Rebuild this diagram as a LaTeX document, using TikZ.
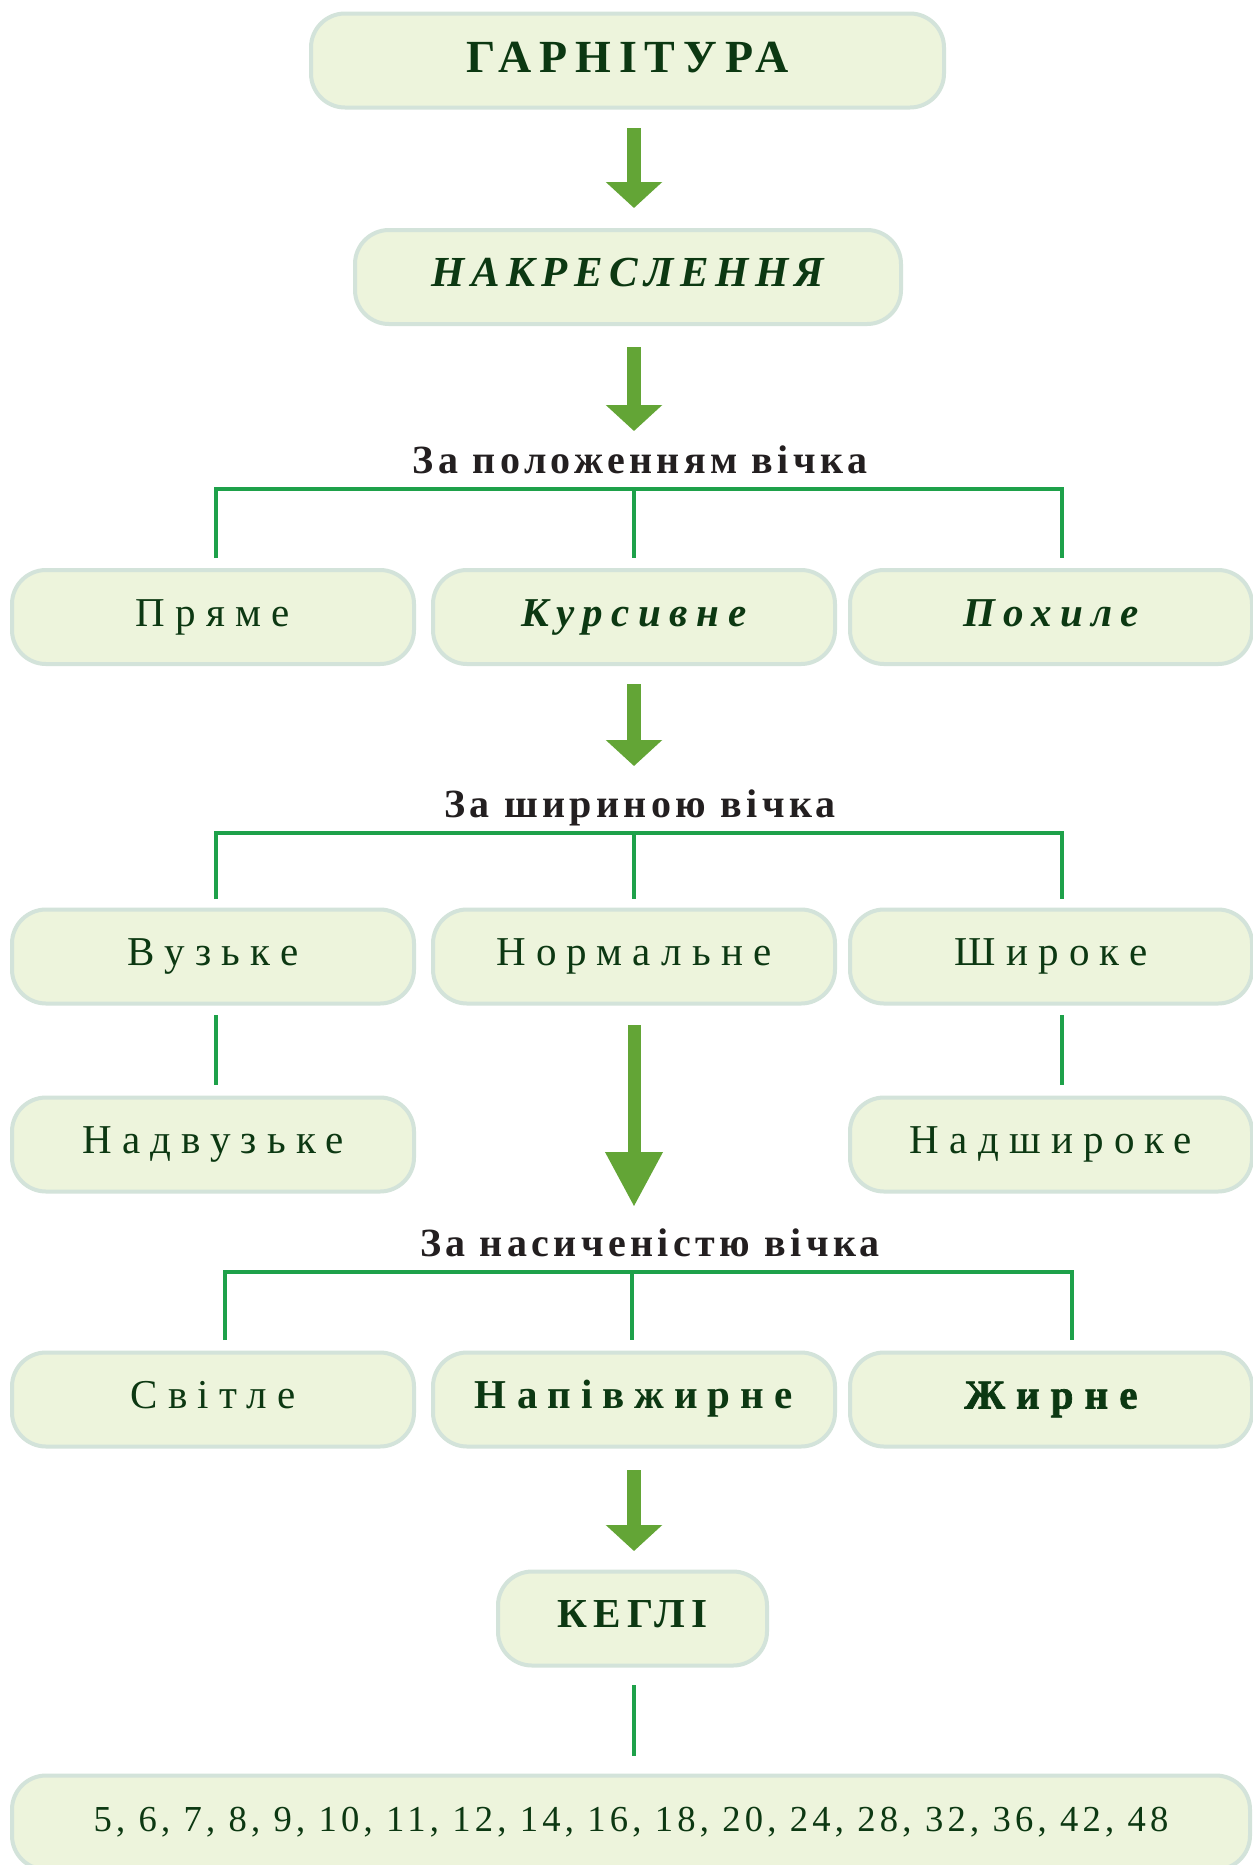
\documentclass[tikz,border=0pt]{standalone}
\usepackage{fontspec}
\setmainfont{Liberation Serif}
\usetikzlibrary{arrows.meta,calc}

\definecolor{boxfill}{RGB}{237,244,220}
\definecolor{boxline}{RGB}{211,227,218}
\definecolor{txtgreen}{RGB}{12,56,18}
\definecolor{linegreen}{RGB}{30,161,74}
\definecolor{arrowgreen}{RGB}{99,165,54}
\definecolor{labelink}{RGB}{35,31,32}

% size and tracking of a text
\newcommand\trk[2]{\fontsize{#1}{#1}\selectfont\addfontfeature{LetterSpace=#2}}

\begin{document}
\begin{tikzpicture}[x=0.5pt,y=-0.5pt,
  panel/.style={draw=boxline, line width=2pt, fill=boxfill, rounded corners=17pt,
    minimum height=47pt, inner sep=0pt, text=txtgreen,
    text height=13.5pt, text depth=4.5pt},
  cell/.style={panel, minimum width=201pt},
  plain/.style={font=\trk{20.5}{25}},
  heading/.style={inner sep=0pt, anchor=base, text=labelink, font=\bfseries\trk{20}{11}},
  fork/.style={draw=linegreen, line width=2.3pt},
  flow/.style={draw=arrowgreen, line width=7pt, -{Triangle[width=27.5pt,length=13pt]}},
  bigflow/.style={draw=arrowgreen, line width=6.5pt, -{Triangle[width=27pt,length=27.5pt]}}
]
\useasboundingbox (0,0) rectangle (1253,1865);
\fill[white] (0,0) rectangle (1253,1865);
\clip (0,0) rectangle (1253,1865);

% main chain
\node[panel, minimum width=316.5pt, text height=17.25pt, text depth=5.75pt,
      font=\bfseries\trk{23}{17}] (garn) at (627.5,60.5) {ГАРНІТУРА};
\node[panel, minimum width=273pt, font=\bfseries\itshape\trk{21.4}{15}] (nakr) at (628,277) {НАКРЕСЛЕННЯ};

% slope of the letters
\node[heading] (lpol) at (640,473) {За положенням вічка};
\node[cell, plain] (pryame) at (213,617) {Пряме};
\node[cell, font=\bfseries\itshape\trk{20.5}{21}] (kursyv) at (634,617) {Курсивне};
\node[cell, font=\bfseries\itshape\trk{20.5}{20}] (pokhyle) at (1051,617) {Похиле};

% width of the letters
\node[heading] (lshyr) at (640,817) {За шириною вічка};
\node[cell, plain] (vuzke) at (213,956.5) {Вузьке};
\node[cell, plain] (normal) at (634,956.5) {Нормальне};
\node[cell, plain] (shyroke) at (1051,956.5) {Широке};
\node[cell, plain] (nadvuzke) at (213,1144.5) {Надвузьке};
\node[cell, plain] (nadshyroke) at (1051,1144.5) {Надшироке};

% weight of the letters
\node[heading] (lnas) at (650,1256) {За насиченістю вічка};
\node[cell, plain] (svitle) at (213,1399.5) {Світле};
\node[cell, font=\bfseries\trk{20.5}{25}] (napivzh) at (634,1399.5) {Напівжирне};
\node[cell, font=\bfseries\addfontfeature{FakeBold=1.6}\trk{20.5}{27}] (zhyrne) at (1051,1399.5) {Жирне};

% sizes
\node[panel, minimum width=134.5pt, font=\bfseries\trk{20.6}{16}] (kehli) at (632.5,1618.5) {КЕГЛІ};
\node[panel, minimum width=619pt, font=\trk{18.3}{11.5}] (sizes) at (631,1822.5)
  {5, 6, 7, 8, 9, 10, 11, 12, 14, 16, 18, 20, 24, 28, 32, 36, 42, 48};

% arrows
\draw[flow] ($(garn.south)+(6.5,18.5)$) -- ($(nakr.north)+(6,-20)$);
\draw[flow] ($(nakr.south)+(6,21)$) -- ($(lpol.base)+(-6,-42)$);
\draw[flow] ($(kursyv.south)+(0,18)$) -- ($(lshyr.base)+(-6,-51)$);
\draw[bigflow] ($(normal.south)+(0,19.5)$) -- ($(lnas.base)+(-16,-49)$);
\draw[flow] ($(napivzh.south)+(0,21.5)$) -- ($(kehli.north)+(1.5,-18.5)$);

% forks under the headings
\coordinate (b1) at ($(lpol.base)+(0,16)$);
\coordinate (b2) at ($(lshyr.base)+(0,16)$);
\coordinate (b3) at ($(lnas.base)+(0,16)$);

\draw[fork] ($(pryame.north)+(3,-10)$) |- (b1) -| ($(pokhyle.north)+(11,-10)$);
\draw[fork] (kursyv.north |- b1) -- ($(kursyv.north)+(0,-10)$);

\draw[fork] ($(vuzke.north)+(3,-8.5)$) |- (b2) -| ($(shyroke.north)+(11,-8.5)$);
\draw[fork] (normal.north |- b2) -- ($(normal.north)+(0,-8.5)$);

\coordinate (m3) at ($(napivzh.north)+(-2,-10.5)$);
\draw[fork] ($(svitle.north)+(12,-10.5)$) |- (b3) -| ($(zhyrne.north)+(21,-10.5)$);
\draw[fork] (m3 |- b3) -- (m3);

% single links
\draw[fork] ($(vuzke.south)+(3,9.5)$) -- ($(nadvuzke.north)+(3,-10.5)$);
\draw[fork] ($(shyroke.south)+(11,9.5)$) -- ($(nadshyroke.north)+(11,-10.5)$);
\draw[fork] ($(kehli.south)+(1.5,17.5)$) -- ($(sizes.north)+(3,-17.5)$);
\end{tikzpicture}
\end{document}
